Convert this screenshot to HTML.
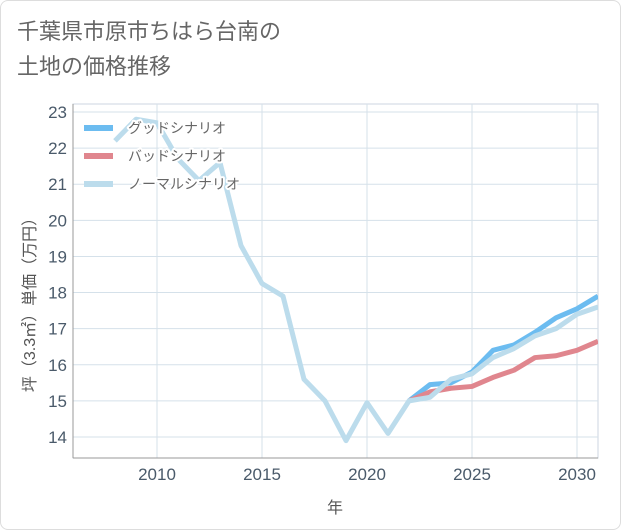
<!DOCTYPE html>
<html><head><meta charset="utf-8"><style>
body{margin:0;background:#fff;font-family:"Liberation Sans","Noto Sans CJK JP",sans-serif;}
#card{position:absolute;left:0;top:0;width:619px;height:528px;border:1px solid #ddd;border-radius:8px;background:#fff;}
#title{position:absolute;left:16px;top:13px;font-size:22px;line-height:35px;color:#666;}
</style></head><body>
<div id="card">
<div id="title">千葉県市原市ちはら台南の<br>土地の価格推移</div>
<svg id="chart" width="621" height="530" style="position:absolute;left:0;top:0"></svg>
</div>
<script>
const years=[2008,2009,2010,2011,2012,2013,2014,2015,2016,2017,2018,2019,2020,2021,2022,2023,2024,2025,2026,2027,2028,2029,2030,2031];
const normal=[22.2,22.8,22.7,21.7,21.1,21.6,19.3,18.25,17.9,15.6,15.0,13.9,14.95,14.1,15.0,15.1,15.6,15.75,16.2,16.45,16.8,17.0,17.4,17.6];
const goodYears=[2022,2023,2024,2025,2026,2027,2028,2029,2030,2031];
const good=[15.0,15.45,15.5,15.8,16.4,16.55,16.9,17.3,17.55,17.9];
const bad=[15.0,15.25,15.35,15.4,15.65,15.85,16.2,16.25,16.4,16.65];
const yTicks=[14,15,16,17,18,19,20,21,22,23];
const xTicks=[2010,2015,2020,2025,2030];
const L=72,R=597,T=103,B=457;
const X=v=>L+(v-2006)/(2031-2006)*(R-L);
const Y=v=>436-(v-14)*(325/9);
const svg=document.getElementById('chart');
const NS='http://www.w3.org/2000/svg';
function mk(t,a,p){const e=document.createElementNS(NS,t);for(const k in a)e.setAttribute(k,a[k]);(p||svg).appendChild(e);return e;}
let r=mk('rect',{x:L,y:T,width:R-L,height:B-T,fill:'#fff',stroke:'#ccd6e0'});


yTicks.forEach(v=>{
 const g=mk('line',{x1:L,x2:R,y1:Y(v),y2:Y(v),stroke:'#d5e1ea','stroke-width':1});
 
 
 const t=mk('text',{x:L-6,y:Y(v)+6,'text-anchor':'end','font-size':17,fill:'#4a5a6a'});t.textContent=v;
 
 
});
xTicks.forEach(v=>{
 const g=mk('line',{x1:X(v),x2:X(v),y1:T,y2:B,stroke:'#d5e1ea','stroke-width':1});
 
 
 const t=mk('text',{x:X(v),y:B+22,'text-anchor':'middle','font-size':17,fill:'#4a5a6a'});t.textContent=v;
 
 
});
mk('line',{x1:L,x2:L,y1:T,y2:B,stroke:'#999'});
mk('line',{x1:L,x2:R,y1:B,y2:B,stroke:'#999'});
const xt=mk('text',{x:334,y:512,'text-anchor':'middle','font-size':16,fill:'#555'});xt.textContent='年';


const yt=mk('text',{x:0,y:0,'text-anchor':'middle','font-size':16,fill:'#555',transform:'translate(34,300) rotate(-90)'});yt.textContent='坪（3.3㎡）単価（万円）';


function line(xs,vs,col,name){
 const p=mk('polyline',{points:xs.map((x,i)=>X(x)+','+Y(vs[i])).join(' '),fill:'none',stroke:col,'stroke-width':5,'stroke-linejoin':'round'});
 
 
}
const clip=mk('clipPath',{id:'c'});mk('rect',{x:L,y:T,width:R-L,height:B-T},clip);
line(goodYears,good,'#6cbcf0','good-scenario-line');
line(goodYears,bad,'#e0868e','bad-scenario-line');
line(years,normal,'#bcdcec','normal-scenario-line');
document.querySelectorAll('polyline').forEach(p=>p.setAttribute('clip-path','url(#c)'));
const leg=[['グッドシナリオ','#6cbcf0'],['バッドシナリオ','#e0868e'],['ノーマルシナリオ','#bcdcec']];
leg.forEach((d,i)=>{
 const y=127+i*28;
 const s=mk('line',{x1:83,x2:112,y1:y,y2:y,stroke:d[1],'stroke-width':6});
 
 
 const t=mk('text',{x:127,y:y+5,'font-size':14,fill:'#666',stroke:'#fff','stroke-width':4,'paint-order':'stroke','stroke-linejoin':'round'});t.textContent=d[0];
 
 
});
</script>
</body></html>
